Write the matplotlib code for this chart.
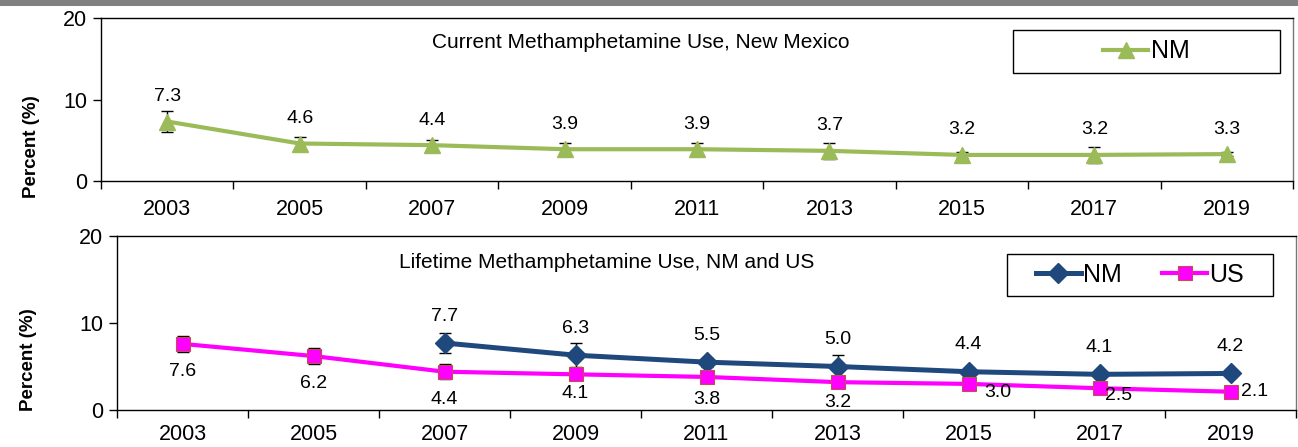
import matplotlib
matplotlib.use("Agg")
import matplotlib.pyplot as plt
from matplotlib.patches import Rectangle
import numpy as np

years = ["2003", "2005", "2007", "2009", "2011", "2013", "2015", "2017", "2019"]

current_nm = [7.3, 4.6, 4.4, 3.9, 3.9, 3.7, 3.2, 3.2, 3.3]
current_nm_err = [1.3, 0.8, 0.6, 0.8, 0.8, 1.0, 0.4, 1.0, 0.2]

lifetime_nm = [None, None, 7.7, 6.3, 5.5, 5.0, 4.4, 4.1, 4.2]
lifetime_nm_err = [None, None, 1.1, 1.4, 0.5, 1.3, 0.4, 0.4, 0.4]
lifetime_us = [7.6, 6.2, 4.4, 4.1, 3.8, 3.2, 3.0, 2.5, 2.1]
lifetime_us_err = [0.95, 0.9, 0.85, 0.3, 0.3, 0.3, 0.3, 0.3, 0.2]

GREEN = "#9BBB59"
NAVY = "#1F497D"
MAGENTA = "#FF00FF"

plt.rcParams["font.family"] = ["Liberation Sans", "DejaVu Sans"]

W, H = 1298, 447
fig = plt.figure(figsize=(W / 100, H / 100), dpi=100)
fig.patches.append(Rectangle((0, 1 - 6 / H), 1, 6 / H, transform=fig.transFigure,
                             facecolor="#808080", edgecolor="none"))


def px_box(l, t, r, b):
    return [l / W, 1 - b / H, (r - l) / W, (b - t) / H]


ax1 = fig.add_axes(px_box(101, 18, 1293, 181))
ax2 = fig.add_axes(px_box(117, 236, 1296, 410))

x = np.arange(len(years))
PX = 0.72  # points per pixel


def style(ax, label_xy, xpad):
    ax.set_xlim(-0.5, len(years) - 0.5)
    ax.set_ylim(0, 20)
    ax.set_yticks([0, 10, 20])
    ax.set_xticks(np.arange(-0.5, len(years), 1.0))
    ax.set_xticklabels([])
    ax.set_xticks(x, minor=True)
    ax.set_xticklabels(years, minor=True, fontsize=15.5)
    ax.tick_params(axis="x", which="major", direction="out", length=6, width=1, color="black")
    ax.tick_params(axis="x", which="minor", length=0, pad=xpad)
    ax.tick_params(axis="y", direction="out", length=6, width=1, labelsize=15.5, pad=4)
    for s in ax.spines.values():
        s.set_linewidth(1.0)
        s.set_color("black")
    ax.spines["right"].set_color("#777777")
    ax.set_ylabel("Percent (%)", fontsize=13.5, fontweight="bold")
    ax.yaxis.set_label_coords(*label_xy)


def legend_frame(l, t, r, b):
    fig.patches.append(Rectangle((l / W, 1 - b / H), (r - l) / W, (b - t) / H,
                                 transform=fig.transFigure, facecolor="white",
                                 edgecolor="black", linewidth=1.0, zorder=5))


# Top panel
style(ax1, ((40 - 101) / 1192, 0.21), 13)
ax1.errorbar(x, current_nm, yerr=current_nm_err, fmt="none", ecolor="black",
             elinewidth=1, capsize=4, capthick=1, zorder=2)
ax1.plot(x, current_nm, color=GREEN, lw=3, marker="^", markersize=11,
         markeredgecolor=GREEN, label="NM", zorder=3)
for xi, v in zip(x, current_nm):
    ax1.annotate(f"{v:.1f}", (xi, v), xytext=(0, 25 * PX), textcoords="offset points",
                 ha="center", va="center", fontsize=14)
ax1.text(641, H - 43, "Current Methamphetamine Use, New Mexico", transform=None,
         ha="center", va="center", fontsize=15)
legend_frame(1013, 30, 1280, 73)
leg1 = fig.legend(*ax1.get_legend_handles_labels(), loc="center",
                  bbox_to_anchor=((1013 + 1280) / 2 / W, 1 - (30 + 73) / 2 / H),
                  fontsize=18, frameon=False, handlelength=1.8, handletextpad=0.1,
                  borderpad=0, borderaxespad=0)
leg1.set_zorder(6)

# Bottom panel
style(ax2, ((37 - 117) / 1179, 0.287), 10)
nm_x = [xi for xi, v in zip(x, lifetime_nm) if v is not None]
nm_v = [v for v in lifetime_nm if v is not None]
nm_e = [e for e in lifetime_nm_err if e is not None]
ax2.errorbar(nm_x, nm_v, yerr=nm_e, fmt="none", ecolor="black",
             elinewidth=1, capsize=4, capthick=1, zorder=2)
ax2.errorbar(x, lifetime_us, yerr=lifetime_us_err, fmt="none", ecolor="black",
             elinewidth=1, capsize=4, capthick=1, zorder=2)
ax2.plot(nm_x, nm_v, color=NAVY, lw=3.6, marker="D", markersize=10,
         markeredgecolor=NAVY, label="NM", zorder=3)
ax2.plot(x, lifetime_us, color=MAGENTA, lw=3, marker="s", markersize=10,
         markeredgecolor="#C0504D", markeredgewidth=0.8, label="US", zorder=4)
for xi, v in zip(nm_x, nm_v):
    ax2.annotate(f"{v:.1f}", (xi, v), xytext=(0, 27 * PX), textcoords="offset points",
                 ha="center", va="center", fontsize=14)
us_offsets_px = [(0, -28), (0, -27), (0, -28), (0, -19), (0, -23), (0, -20),
                 (29, -9), (19, -7), (24, 0)]
for xi, v, (dx, dy) in zip(x, lifetime_us, us_offsets_px):
    ax2.annotate(f"{v:.1f}", (xi, v), xytext=(dx * PX, dy * PX), textcoords="offset points",
                 ha="center", va="center", fontsize=14, zorder=6)
ax2.text(607, H - 262, "Lifetime Methamphetamine Use, NM and US", transform=None,
         ha="center", va="center", fontsize=15)
legend_frame(1007, 254, 1273, 296)
leg2 = fig.legend(*ax2.get_legend_handles_labels(), loc="center", ncol=2,
                  bbox_to_anchor=((1007 + 1273) / 2 / W, 1 - (254 + 296) / 2 / H),
                  fontsize=18, frameon=False, handlelength=1.8, handletextpad=0.1,
                  columnspacing=1.6, borderpad=0, borderaxespad=0)
leg2.set_zorder(6)

fig.savefig("out.png", dpi=100)
